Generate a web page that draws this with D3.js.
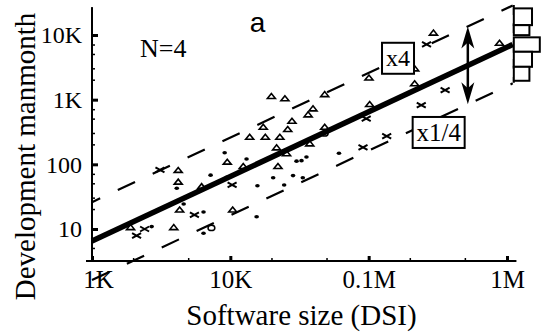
<!DOCTYPE html>
<html>
<head>
<meta charset="utf-8">
<script src="https://cdn.jsdelivr.net/npm/d3@7"></script>
<style>
  body { margin: 0; background: #ffffff; }
  svg { display: block; font-family: "Liberation Serif", "Times New Roman", serif; }
</style>
</head>
<body>
<svg id="chart" width="542" height="334"></svg>
<script>
// axis ticks
const xTickValues = [1e3, 1e4, 1e5, 1e6];
const xTickLabels = ["1K", "10K", "0.1M", "1M"];
const xMinorTicks = [2e3, 5e3, 2e4, 5e4, 2e5, 5e5];
const yTickValues = [10, 100, 1e3, 1e4];
const yTickLabels = ["10", "100", "1K", "10K"];
const yMinorTicks = [5, 7, 20, 30, 50, 70, 200, 300, 500, 700, 2e3, 3e3, 5e3, 7e3];
const xAxisExtent = [905, 1.17e6];
const yAxisExtent = [3.2, 27000];

// projects: [size DSI, manmonths]
const triangles = [
  [1900, 10.7], [3900, 10.7], [4300, 20], [10400, 20], [6200, 46], [4200, 54], [4200, 82],
  [9500, 110], [12400, 94], [22100, 94], [13800, 267], [17900, 267], [22800, 267],
  [21600, 183], [25500, 148], [37500, 211], [26000, 351], [17300, 381], [27900, 472],
  [36500, 593], [39600, 734], [19800, 1140], [24800, 1050], [48100, 1220], [48100, 381],
  [100500, 2200], [101700, 855], [215000, 3050], [215000, 1790], [294000, 10900], [883000, 7600]
];
const crosses = [
  [2100, 7.9], [2400, 10], [3100, 82], [5500, 16.5], [10300, 48], [96000, 510],
  [91000, 183], [135000, 274], [240000, 825], [262000, 7160], [357000, 1410]
];
const dots = [
  [2700, 10.9], [4100, 42.6], [4600, 24.3], [6400, 18.3], [6400, 8.6], [7200, 68],
  [9100, 151], [9400, 63], [13100, 121], [15700, 46.7], [15500, 15.5], [20400, 62],
  [28400, 67], [30100, 112], [32700, 114], [35500, 130], [33400, 62], [61000, 148], [24500, 48]
];
const circles = [[7300, 10.4], [48100, 300]];

// fitted line y = fitCoef * (x/1000)^fitExp, band x4 and x1/4
const fitCoef = 6.5;
const fitExp = 1.0;
const bandFactor = 4;
const fitRange = [1e3, 1.1e6];
const arrowX = 521000;
const histX = 1.12e6;

// residual histogram at right edge: [top, bottom, count]
const histBins = [
  [25800, 14200, 7], [14200, 9950, 6], [9200, 5500, 10], [5500, 3220, 7], [3220, 1960, 6]
];

const svg = d3.select("#chart");
const x = d3.scaleLog().domain([1e3, 1e6]).range([92, 507]);
const y = d3.scaleLog().domain([10, 1e4]).range([229, 35]);
const countW = d3.scaleLinear().domain([0, 10]).range([0, 26]);
const fit = function(v) { return fitCoef * Math.pow(v / 1000, fitExp); };

const xBase = y(yAxisExtent[0]);
const yBase = x(xAxisExtent[0]) + 6;

// axis lines
svg.append("line")
  .attr("x1", x(xAxisExtent[0])).attr("x2", x(xAxisExtent[1]))
  .attr("y1", xBase).attr("y2", xBase)
  .attr("stroke", "#000").attr("stroke-width", 2);
svg.append("line")
  .attr("x1", yBase).attr("x2", yBase)
  .attr("y1", xBase).attr("y2", y(yAxisExtent[1]))
  .attr("stroke", "#000").attr("stroke-width", 2);

// major ticks + labels
const gx = svg.append("g")
  .attr("transform", "translate(0," + xBase + ")")
  .call(d3.axisBottom(x).tickValues(xTickValues).tickSize(-5).tickPadding(9)
    .tickFormat(function(d, i) { return xTickLabels[i]; }));
gx.select(".domain").remove();
gx.selectAll("line").attr("stroke-width", 3);
gx.selectAll("text").attr("font-size", 25).attr("font-family", "Liberation Serif")
  .attr("fill", "#000").attr("dx", function(d, i) { return i === 0 ? 6 : 0; });

const gy = svg.append("g")
  .attr("transform", "translate(" + yBase + ",0)")
  .call(d3.axisLeft(y).tickValues(yTickValues).tickSize(-6).tickPadding(10)
    .tickFormat(function(d, i) { return yTickLabels[i]; }));
gy.select(".domain").remove();
gy.selectAll("line").attr("stroke-width", 3);
gy.selectAll("text").attr("font-size", 24).attr("font-family", "Liberation Serif").attr("fill", "#000");

// minor ticks
svg.append("g").selectAll("line").data(xMinorTicks).join("line")
  .attr("x1", function(d) { return x(d); }).attr("x2", function(d) { return x(d); })
  .attr("y1", xBase).attr("y2", xBase - 3)
  .attr("stroke", "#000").attr("stroke-width", 1.5);
svg.append("g").selectAll("line").data(yMinorTicks).join("line")
  .attr("y1", function(d) { return y(d); }).attr("y2", function(d) { return y(d); })
  .attr("x1", yBase).attr("x2", yBase + 3)
  .attr("stroke", "#000").attr("stroke-width", 1.5);

// fit line and band
const line = d3.line().x(function(d) { return x(d[0]); }).y(function(d) { return y(d[1]); });
const fitPts = fitRange.map(function(v) { return [v, fit(v)]; });
const upPts = fitRange.map(function(v) { return [v, fit(v) * bandFactor]; });
const loPts = fitRange.map(function(v) { return [v, fit(v) / bandFactor]; });

svg.append("path").attr("d", line(upPts)).attr("fill", "none").attr("stroke", "#000")
  .attr("stroke-width", 2.2).attr("stroke-dasharray", "19,19.5").attr("stroke-dashoffset", 10);
svg.append("path").attr("d", line(loPts)).attr("fill", "none").attr("stroke", "#000")
  .attr("stroke-width", 2.2).attr("stroke-dasharray", "19,19.5");

// vertical band line at right
svg.append("line")
  .attr("x1", x(histX)).attr("x2", x(histX))
  .attr("y1", y(fit(histX) * bandFactor)).attr("y2", y(fit(histX) / bandFactor))
  .attr("stroke", "#000").attr("stroke-width", 2).attr("stroke-dasharray", "10,8");

// markers
const tri = "M-4,2.5L4,2.5L0,-2.5Z";
svg.append("g").selectAll("path").data(triangles).join("path")
  .attr("d", tri)
  .attr("transform", function(d) { return "translate(" + x(d[0]) + "," + y(d[1]) + ")"; })
  .attr("fill", "#fff").attr("stroke", "#000").attr("stroke-width", 1.6);
svg.append("g").selectAll("path").data(crosses).join("path")
  .attr("d", "M-4.5,-2.5L4.5,2.5M-4.5,2.5L4.5,-2.5")
  .attr("transform", function(d) { return "translate(" + x(d[0]) + "," + y(d[1]) + ")"; })
  .attr("fill", "none").attr("stroke", "#000").attr("stroke-width", 2);
svg.append("g").selectAll("ellipse").data(dots).join("ellipse")
  .attr("cx", function(d) { return x(d[0]); }).attr("cy", function(d) { return y(d[1]); })
  .attr("rx", 2.3).attr("ry", 1.8).attr("fill", "#000");
svg.append("g").selectAll("ellipse").data(circles).join("ellipse")
  .attr("cx", function(d) { return x(d[0]); }).attr("cy", function(d) { return y(d[1]); })
  .attr("rx", 3.4).attr("ry", 2.6).attr("fill", "none").attr("stroke", "#000").attr("stroke-width", 1.5);

// main fit line
svg.append("path").attr("d", line(fitPts)).attr("fill", "none").attr("stroke", "#000")
  .attr("stroke-width", 5.5);

// histogram boxes
svg.append("g").selectAll("rect").data(histBins).join("rect")
  .attr("x", x(histX))
  .attr("y", function(d) { return y(d[0]); })
  .attr("width", function(d) { return countW(d[2]); })
  .attr("height", function(d) { return y(d[1]) - y(d[0]); })
  .attr("fill", "#fff").attr("stroke", "#000").attr("stroke-width", 2);

// double arrow
const ax = x(arrowX);
const aTop = y(fit(arrowX) * bandFactor);
const aBot = y(fit(arrowX) / bandFactor);
svg.append("line").attr("x1", ax).attr("x2", ax).attr("y1", aTop + 10).attr("y2", aBot - 10)
  .attr("stroke", "#000").attr("stroke-width", 2.5);
svg.append("path")
  .attr("d", "M" + ax + "," + aTop + "L" + (ax + 6.5) + "," + (aTop + 22) + "L" + ax + "," + (aTop + 16) +
    "L" + (ax - 6.5) + "," + (aTop + 22) + "Z")
  .attr("fill", "#000");
svg.append("path")
  .attr("d", "M" + ax + "," + aBot + "L" + (ax + 6.5) + "," + (aBot - 22) + "L" + ax + "," + (aBot - 16) +
    "L" + (ax - 6.5) + "," + (aBot - 22) + "Z")
  .attr("fill", "#000");

// factor labels
function boxLabel(cx, cy, w, h, txt, size) {
  const g = svg.append("g").attr("transform", "translate(" + cx + "," + cy + ")");
  g.append("rect").attr("x", -w / 2).attr("y", -h / 2).attr("width", w).attr("height", h)
    .attr("fill", "#fff").attr("stroke", "#000").attr("stroke-width", 2);
  g.append("text").attr("text-anchor", "middle").attr("dy", "0.33em")
    .attr("font-size", size).attr("fill", "#000").text(txt);
}
boxLabel(x(163000), y(4365), 32, 31, "x4", 24);
boxLabel(x(320600), y(311), 52, 31, "x1/4", 25);

// texts
svg.append("text").attr("x", 140).attr("y", 57).attr("font-size", 26).attr("fill", "#000").text("N=4");
svg.append("text").attr("x", 257.5).attr("y", 32).attr("text-anchor", "middle")
  .attr("font-family", "Liberation Sans, Arial, sans-serif").attr("font-size", 28).attr("fill", "#000").text("a");
svg.append("text").attr("x", 301.5).attr("y", 325).attr("text-anchor", "middle")
  .attr("font-size", 29).attr("fill", "#000").text("Software size (DSI)");
svg.append("text").attr("transform", "translate(35,156.5) rotate(-90)").attr("text-anchor", "middle")
  .attr("font-size", 29).attr("fill", "#000").text("Development manmonth");
</script>
</body>
</html>
